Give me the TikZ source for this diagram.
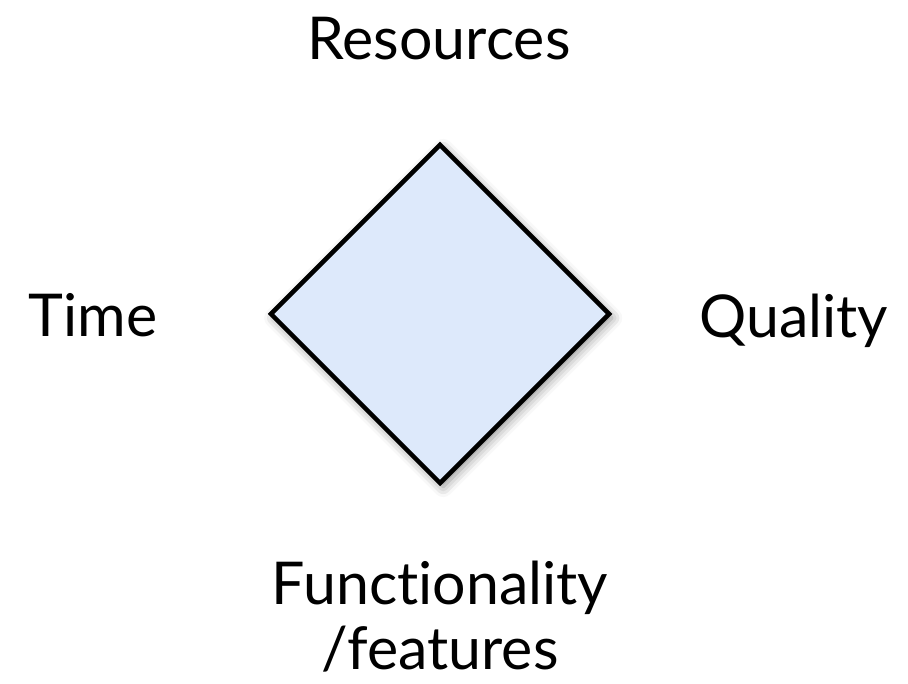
\documentclass[tikz,border=0pt]{standalone}
\usepackage{fontspec}
\setmainfont{Lato}[Ligatures=NoCommon]
\usepackage{xcolor}
\usetikzlibrary{shapes,shadows.blur}
\definecolor{dialight}{HTML}{DDE9FB}
\tikzset{dia/.style={diamond,draw,line width=3.2pt,fill=dialight,minimum width=8.5cm,minimum height=8.5cm,inner sep=0pt,
    blur shadow={shadow xshift=0.08cm,shadow yshift=-0.1cm,shadow blur radius=0.25cm,shadow opacity=45}}}
\tikzset{lbl/.style={anchor=base,font=\fontsize{42}{46}\selectfont,align=center,inner sep=0pt}}

\begin{document}
\begin{tikzpicture}
    \useasboundingbox (0,0) rectangle (22.7,17.1);
    \node[dia] (d)at (11.0,9.25) {};

    \node[lbl] (r)at (10.975,15.6) {Resources};
    \node[lbl] (t)at (2.325,8.675) {Time};
    \node[lbl] (q)at (19.84,8.65) {Quality};
    \node[lbl] (f)at (11.0,1.975) {Functionality};
    \node[lbl] (g)at (11.0,0.35) {/features};
\end{tikzpicture}
\end{document}
